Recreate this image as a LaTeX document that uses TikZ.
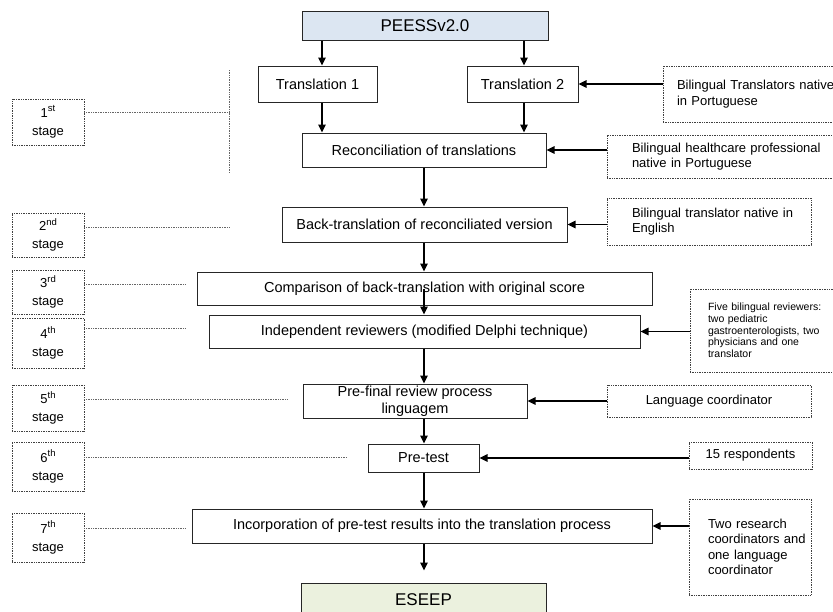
\documentclass[tikz,border=0pt]{standalone}
\usepackage{fontspec}
\setmainfont{Liberation Sans}
\usetikzlibrary{arrows.meta,calc}
\definecolor{peessblue}{RGB}{220,230,242}
\definecolor{eseepgreen}{RGB}{235,241,222}
\newcommand\stsup[1]{\raisebox{0.42em}{\fontsize{9.5}{10}\selectfont #1}}
\begin{document}
\begin{tikzpicture}[x=1pt,y=-1pt,
 mainbox/.style={draw=black!85, line width=1pt, inner sep=0pt, font=\fontsize{14.5}{17}\selectfont, align=center},
 sidebox/.style={draw=black!75, densely dotted, line width=0.7pt, inner sep=0pt, font=\fontsize{13}{15.5}\selectfont, align=center},
 lbox/.style={sidebox, align=left, text width=#1},
 stagebox/.style={draw=black!75, densely dotted, line width=0.7pt, inner sep=0pt, minimum width=72pt, font=\fontsize{13}{18}\selectfont, align=center},
 arr/.style={draw=black, line width=1.3pt, -{Triangle[length=8pt,width=7.5pt]}},
 stline/.style={draw=black!60, densely dotted, line width=0.7pt},
]
\useasboundingbox (0,0) rectangle (833,611);
\clip (0,0) rectangle (833,611);

% main flow
\node[mainbox, fill=peessblue, minimum width=246pt, minimum height=29pt, font=\fontsize{17}{20}\selectfont] (peess) at (425,25.5) {PEESSv2.0};
\node[mainbox, minimum width=119pt, minimum height=36pt] (t1) at (317.5,84) {Translation 1};
\node[mainbox, minimum width=111pt, minimum height=36pt] (t2) at (522.5,84) {Translation 2};
\node[mainbox, minimum width=244pt, minimum height=34pt] (rec) at (424,150) {Reconciliation of translations};
\node[mainbox, minimum width=285pt, minimum height=35pt] (back) at (424.5,224.5) {Back-translation of reconciliated version};
\node[mainbox, minimum width=455pt, minimum height=33pt] (comp) at (424.5,288.5) {Comparison of back-translation with original score};
\node[mainbox, minimum width=431pt, minimum height=33pt] (indep) at (424.5,331.5) {Independent reviewers (modified Delphi technique)};
\node[mainbox, minimum width=224pt, minimum height=34pt] (pref) at (415,401) {Pre-final review process\\linguagem};
\node[mainbox, minimum width=111pt, minimum height=28pt] (pret) at (423.5,458) {Pre-test};
\node[mainbox, minimum width=460pt, minimum height=34pt] (inc) at (422,526) {Incorporation of pre-test results into the translation process};
\node[mainbox, fill=eseepgreen, minimum width=245pt, minimum height=34pt, font=\fontsize{17}{20}\selectfont] (eseep) at (423.5,600) {ESEEP};

% side boxes
\node[lbox=187pt, minimum height=56pt] (trA) at (756.5,94) {\hspace*{14pt}Bilingual Translators native\\\hspace*{14pt}in Portuguese};
\node[lbox=243pt, minimum height=43pt] (hcp) at (728.5,156.5) {\hspace*{25pt}Bilingual healthcare professional\\\hspace*{25pt}native in Portuguese};
\node[lbox=204pt, minimum height=47pt] (eng) at (709,221.5) {\hspace*{25pt}Bilingual translator native in\\\hspace*{25pt}English};
\node[lbox=160pt, minimum height=83pt, font=\fontsize{10.5}{11.7}\selectfont] (five) at (770,330.5) {\hspace*{18pt}Five bilingual reviewers:\\\hspace*{18pt}two pediatric\\\hspace*{18pt}gastroenterologists, two\\\hspace*{18pt}physicians and one\\\hspace*{18pt}translator};
\node[sidebox, minimum width=204pt, minimum height=32pt] (lang) at (709,401) {Language coordinator};
\node[sidebox, minimum width=123pt, minimum height=27pt] (resp) at (750.5,455.5) {15 respondents};
\node[lbox=122pt, minimum height=96pt] (two) at (750,547) {\hspace*{19pt}Two research\\\hspace*{19pt}coordinators and\\\hspace*{19pt}one language\\\hspace*{19pt}coordinator};

% stage boxes
\node[stagebox, minimum height=46pt] (s1) at (48,122) {1\stsup{st}\\stage};
\node[stagebox, minimum height=44pt] (s2) at (48,235) {2\stsup{nd}\\stage};
\node[stagebox, minimum height=44pt] (s3) at (48,292) {3\stsup{rd}\\stage};
\node[stagebox, minimum height=50pt] (s4) at (48,343) {4\stsup{th}\\stage};
\node[stagebox, minimum height=46pt] (s5) at (48,408) {5\stsup{th}\\stage};
\node[stagebox, minimum height=49pt] (s6) at (48,466.5) {6\stsup{th}\\stage};
\node[stagebox, minimum height=49pt] (s7) at (48,537.5) {7\stsup{th}\\stage};

% stage connector ends
\coordinate (v1) at (229,70);
\coordinate (v2) at (229,173);
\coordinate (e1) at (229,112);
\coordinate (e2) at (230,227);
\coordinate (e3) at (186,284);
\coordinate (e4) at (186,328);
\coordinate (e5) at (288,399);
\coordinate (e6) at (347,457);
\coordinate (e7) at (186,528);
\draw[stline] (v1) -- (v2);
\draw[stline] (s1.east |- e1) -- (e1);
\draw[stline] (s2.east |- e2) -- (e2);
\draw[stline] (s3.east |- e3) -- (e3);
\draw[stline] (s4.east |- e4) -- (e4);
\draw[stline] (s5.east |- e5) -- (e5);
\draw[stline] (s6.east |- e6) -- (e6);
\draw[stline] (s7.east |- e7) -- (e7);

% vertical arrows
\coordinate (ax) at (424,0);
\coordinate (c1) at (322,0);
\coordinate (c2) at (524,0);
\draw[arr] (peess.south -| c1) -- (t1.north -| c1);
\draw[arr] (peess.south -| c2) -- (t2.north -| c2);
\draw[arr] (t1.south -| c1) -- (rec.north -| c1);
\draw[arr] (t2.south -| c2) -- (rec.north -| c2);
\draw[arr] (rec.south -| ax) -- (back.north -| ax);
\draw[arr] (back.south -| ax) -- (comp.north -| ax);
\draw[arr] (comp.center -| ax) -- (indep.north -| ax);
\draw[arr] (indep.south -| ax) -- (pref.north -| ax);
\draw[arr] (pref.south -| ax) -- (pret.north -| ax);
\draw[arr] (pret.south -| ax) -- (inc.north -| ax);
\draw[arr, shorten >=12pt] (inc.south -| ax) -- (eseep.north -| ax);

% side arrows
\draw[arr] (trA.west |- t2.east) -- (t2.east);
\draw[arr] (hcp.west |- rec.east) -- (rec.east);
\draw[arr] (eng.west |- back.east) -- (back.east);
\draw[arr] (five.west |- indep.east) -- (indep.east);
\draw[arr] (lang.west |- pref.east) -- (pref.east);
\draw[arr] (resp.west |- pret.east) -- (pret.east);
\draw[arr] (two.west |- inc.east) -- (inc.east);
\end{tikzpicture}
\end{document}
